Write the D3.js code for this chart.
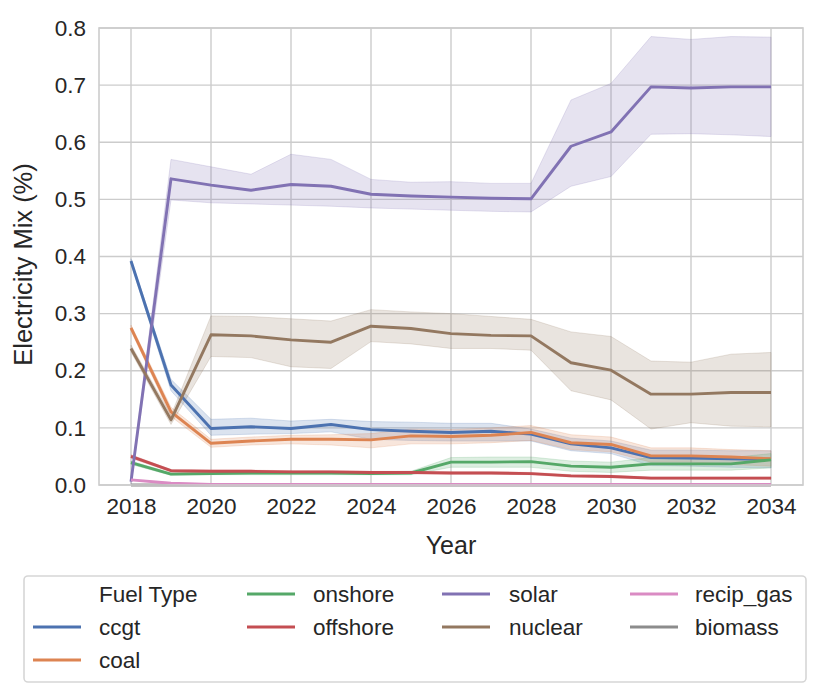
<!DOCTYPE html>
<html>
<head>
<meta charset="utf-8">
<script src="https://cdn.jsdelivr.net/npm/d3@7"></script>
<style>
  body { margin: 0; background: #fff; }
  text { font-family: "Liberation Sans", Arial, sans-serif; fill: #262626; }
</style>
</head>
<body>
<div id="chart"></div>
<script>
const years = [2018, 2019, 2020, 2021, 2022, 2023, 2024, 2025, 2026, 2027, 2028, 2029, 2030, 2031, 2032, 2033, 2034];

const fuelTypes = ["ccgt", "coal", "onshore", "offshore", "solar", "nuclear", "recip_gas", "biomass"];
const fuelColors = ["#4c72b0", "#dd8452", "#55a868", "#c44e52", "#8172b3", "#937860", "#da8bc3", "#8c8c8c"];

// mean lines
const ccgt = [0.392, 0.175, 0.099, 0.102, 0.099, 0.106, 0.097, 0.094, 0.092, 0.094, 0.089, 0.072, 0.065, 0.048, 0.047, 0.046, 0.045];
const coal = [0.275, 0.128, 0.073, 0.077, 0.080, 0.080, 0.079, 0.086, 0.085, 0.087, 0.092, 0.074, 0.071, 0.051, 0.051, 0.049, 0.046];
const onshore = [0.039, 0.019, 0.020, 0.021, 0.021, 0.021, 0.020, 0.021, 0.040, 0.040, 0.041, 0.033, 0.031, 0.037, 0.037, 0.037, 0.044];
const offshore = [0.050, 0.025, 0.024, 0.024, 0.023, 0.023, 0.022, 0.022, 0.021, 0.021, 0.020, 0.016, 0.015, 0.012, 0.012, 0.012, 0.012];
const solar = [0.006, 0.536, 0.525, 0.516, 0.526, 0.523, 0.509, 0.506, 0.504, 0.502, 0.501, 0.593, 0.618, 0.697, 0.695, 0.697, 0.697];
const nuclear = [0.239, 0.114, 0.263, 0.261, 0.254, 0.250, 0.278, 0.274, 0.265, 0.262, 0.261, 0.214, 0.201, 0.159, 0.159, 0.162, 0.162];
const recipGas = [0.009, 0.003, 0.001, 0.001, 0.001, 0.001, 0.001, 0.001, 0.001, 0.001, 0.001, 0.001, 0.001, 0.001, 0.001, 0.001, 0.001];
const biomass = [0, 0, 0, 0, 0, 0, 0, 0, 0, 0, 0, 0, 0, 0, 0, 0, 0];

// confidence bands
const ccgtLo = [0.388, 0.165, 0.087, 0.089, 0.090, 0.093, 0.080, 0.078, 0.077, 0.077, 0.077, 0.060, 0.055, 0.034, 0.033, 0.031, 0.030];
const ccgtHi = [0.396, 0.185, 0.115, 0.117, 0.112, 0.115, 0.111, 0.110, 0.108, 0.108, 0.098, 0.082, 0.077, 0.061, 0.061, 0.060, 0.060];
const coalLo = [0.270, 0.120, 0.066, 0.070, 0.072, 0.070, 0.065, 0.072, 0.072, 0.074, 0.078, 0.062, 0.058, 0.040, 0.040, 0.036, 0.033];
const coalHi = [0.280, 0.136, 0.080, 0.084, 0.087, 0.088, 0.090, 0.098, 0.097, 0.100, 0.104, 0.088, 0.084, 0.065, 0.065, 0.062, 0.060];
const onshoreLo = [0.036, 0.017, 0.018, 0.018, 0.018, 0.018, 0.018, 0.018, 0.031, 0.031, 0.031, 0.024, 0.022, 0.026, 0.026, 0.026, 0.030];
const onshoreHi = [0.042, 0.021, 0.023, 0.023, 0.023, 0.023, 0.023, 0.024, 0.048, 0.049, 0.049, 0.042, 0.040, 0.048, 0.048, 0.048, 0.055];
const offshoreLo = [0.047, 0.023, 0.022, 0.022, 0.021, 0.021, 0.020, 0.020, 0.019, 0.019, 0.018, 0.014, 0.013, 0.010, 0.010, 0.010, 0.010];
const offshoreHi = [0.053, 0.027, 0.026, 0.026, 0.025, 0.025, 0.024, 0.024, 0.023, 0.023, 0.022, 0.018, 0.017, 0.014, 0.014, 0.014, 0.014];
const solarLo = [0.002, 0.499, 0.494, 0.492, 0.490, 0.488, 0.485, 0.483, 0.481, 0.479, 0.478, 0.523, 0.540, 0.614, 0.615, 0.613, 0.610];
const solarHi = [0.010, 0.570, 0.557, 0.544, 0.579, 0.570, 0.535, 0.530, 0.531, 0.528, 0.528, 0.674, 0.703, 0.785, 0.780, 0.785, 0.784];
const nuclearLo = [0.233, 0.106, 0.225, 0.223, 0.207, 0.204, 0.251, 0.247, 0.239, 0.239, 0.236, 0.165, 0.149, 0.098, 0.109, 0.103, 0.102];
const nuclearHi = [0.245, 0.122, 0.296, 0.295, 0.291, 0.287, 0.307, 0.303, 0.300, 0.295, 0.290, 0.268, 0.260, 0.217, 0.215, 0.229, 0.232];
const recipGasLo = [0.008, 0.002, 0.000, 0.000, 0.000, 0.000, 0.000, 0.000, 0.000, 0.000, 0.000, 0.000, 0.000, 0.000, 0.000, 0.000, 0.000];
const recipGasHi = [0.010, 0.004, 0.002, 0.002, 0.002, 0.002, 0.002, 0.002, 0.002, 0.002, 0.002, 0.002, 0.002, 0.002, 0.002, 0.002, 0.002];

const xTicks = [2018, 2020, 2022, 2024, 2026, 2028, 2030, 2032, 2034];
const yTicks = [0.0, 0.1, 0.2, 0.3, 0.4, 0.5, 0.6, 0.7, 0.8];

const width = 831;
const height = 697;
const margin = { top: 28, right: 28, bottom: 212, left: 99 };

const series = [
  { name: "ccgt", mean: ccgt, lo: ccgtLo, hi: ccgtHi },
  { name: "coal", mean: coal, lo: coalLo, hi: coalHi },
  { name: "onshore", mean: onshore, lo: onshoreLo, hi: onshoreHi },
  { name: "offshore", mean: offshore, lo: offshoreLo, hi: offshoreHi },
  { name: "solar", mean: solar, lo: solarLo, hi: solarHi },
  { name: "nuclear", mean: nuclear, lo: nuclearLo, hi: nuclearHi },
  { name: "recip_gas", mean: recipGas, lo: recipGasLo, hi: recipGasHi },
  { name: "biomass", mean: biomass, lo: null, hi: null }
];

const color = d3.scaleOrdinal().domain(fuelTypes).range(fuelColors);

const svg = d3.select("#chart")
  .append("svg")
  .attr("width", width)
  .attr("height", height);

const xScale = d3.scaleLinear()
  .domain([2017.2, 2034.8])
  .range([margin.left, width - margin.right]);

const yScale = d3.scaleLinear()
  .domain([0, 0.8])
  .range([height - margin.bottom, margin.top]);

// Grid
svg.append("g")
  .selectAll("line")
  .data(xTicks)
  .enter()
  .append("line")
  .attr("x1", d => xScale(d))
  .attr("x2", d => xScale(d))
  .attr("y1", margin.top)
  .attr("y2", height - margin.bottom)
  .attr("stroke", "#cccccc")
  .attr("stroke-width", 1.4);

svg.append("g")
  .selectAll("line")
  .data(yTicks)
  .enter()
  .append("line")
  .attr("x1", margin.left)
  .attr("x2", width - margin.right)
  .attr("y1", d => yScale(d))
  .attr("y2", d => yScale(d))
  .attr("stroke", "#cccccc")
  .attr("stroke-width", 1.4);

// Bands
const area = d3.area()
  .x(d => xScale(d.year))
  .y0(d => yScale(d.lo))
  .y1(d => yScale(d.hi));

series.filter(s => s.lo).forEach(function(s) {
  const pts = years.map((y, i) => ({ year: y, lo: s.lo[i], hi: s.hi[i] }));
  svg.append("path")
    .datum(pts)
    .attr("fill", color(s.name))
    .attr("fill-opacity", 0.2)
    .attr("stroke", color(s.name))
    .attr("stroke-opacity", 0.2)
    .attr("stroke-width", 1)
    .attr("d", area);
});

// Lines
const line = d3.line()
  .x(d => xScale(d.year))
  .y(d => yScale(d.value));

const lineOrder = ["biomass", "ccgt", "coal", "onshore", "offshore", "solar", "nuclear", "recip_gas"];
lineOrder.forEach(function(name) {
  const s = series.find(d => d.name === name);
  const pts = years.map((y, i) => ({ year: y, value: s.mean[i] }));
  svg.append("path")
    .datum(pts)
    .attr("fill", "none")
    .attr("stroke", color(s.name))
    .attr("stroke-width", 2.9)
    .attr("stroke-linejoin", "round")
    .attr("d", line);
});

// Frame
svg.append("rect")
  .attr("x", margin.left)
  .attr("y", margin.top)
  .attr("width", width - margin.left - margin.right)
  .attr("height", height - margin.top - margin.bottom)
  .attr("fill", "none")
  .attr("stroke", "#cccccc")
  .attr("stroke-width", 1.6);

// X axis
const xAxis = svg.append("g")
  .attr("transform", `translate(0, ${height - margin.bottom})`)
  .call(d3.axisBottom(xScale).tickValues(xTicks).tickFormat(d3.format("d")).tickSize(0).tickPadding(13));
xAxis.select(".domain").remove();
xAxis.selectAll("text")
  .style("font-size", "22.5px")
  .style("font-family", "Liberation Sans, Arial, sans-serif")
  .attr("fill", "#262626");

// Y axis
const yAxis = svg.append("g")
  .attr("transform", `translate(${margin.left}, 0)`)
  .call(d3.axisLeft(yScale).tickValues(yTicks).tickFormat(d3.format(".1f")).tickSize(0).tickPadding(13));
yAxis.select(".domain").remove();
yAxis.selectAll("text")
  .style("font-size", "22.5px")
  .style("font-family", "Liberation Sans, Arial, sans-serif")
  .attr("fill", "#262626");

// Axis labels
svg.append("text")
  .attr("x", (margin.left + width - margin.right) / 2)
  .attr("y", 554)
  .attr("text-anchor", "middle")
  .style("font-size", "25px")
  .text("Year");

svg.append("text")
  .attr("transform", `translate(32, ${(margin.top + height - margin.bottom) / 2 + 8}) rotate(-90)`)
  .attr("text-anchor", "middle")
  .style("font-size", "25.5px")
  .text("Electricity Mix (%)");

// Legend
svg.append("rect")
  .attr("x", 24)
  .attr("y", 576)
  .attr("width", 782)
  .attr("height", 106)
  .attr("rx", 4)
  .attr("fill", "#fff")
  .attr("stroke", "#d6d6d6")
  .attr("stroke-width", 1.6);

const legendCols = [33, 247, 442, 630];
const legendTextX = [99, 313, 509, 695];
const legendRows = [594, 627, 660];
const legendEntries = ["Fuel Type"].concat(fuelTypes);

legendEntries.forEach(function(name, i) {
  const col = i < 3 ? 0 : Math.floor((i - 3) / 2) + 1;
  const row = i < 3 ? i : (i - 3) % 2;
  if (name !== "Fuel Type") {
    svg.append("line")
      .attr("x1", legendCols[col])
      .attr("x2", legendCols[col] + 48)
      .attr("y1", legendRows[row])
      .attr("y2", legendRows[row])
      .attr("stroke", color(name))
      .attr("stroke-width", 3);
  }
  svg.append("text")
    .attr("x", legendTextX[col])
    .attr("y", legendRows[row] + 8)
    .style("font-size", "22.5px")
    .text(name);
});
</script>
</body>
</html>
